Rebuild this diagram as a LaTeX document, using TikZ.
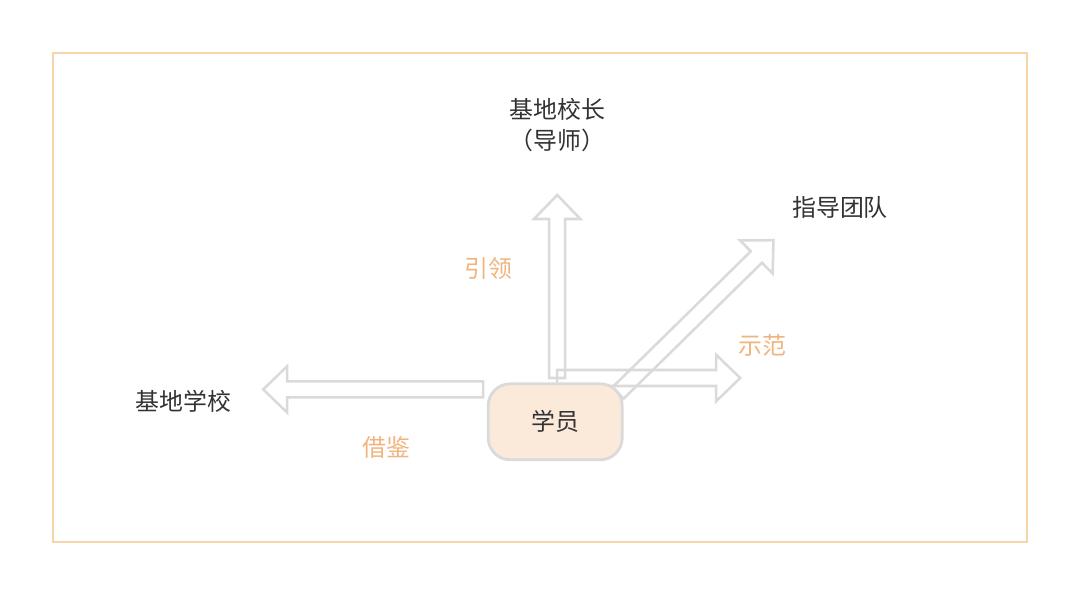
\documentclass[tikz,border=0pt]{standalone}
\usepackage{fontspec}
\setmainfont{Noto Sans CJK SC}
\usetikzlibrary{positioning}
\definecolor{frameor}{HTML}{F6D5AA}
\definecolor{labelor}{HTML}{F0B47E}
\definecolor{arrowgr}{HTML}{DADADA}
\definecolor{boxfill}{HTML}{FBE9DA}
\definecolor{txtgr}{HTML}{333333}
\tikzset{
  pics/blockarrow/.style={code={
    \draw[arrowgr,line width=1.8pt,line join=miter]
      (0,-0.2) -- (#1-0.6,-0.2) -- (#1-0.6,-0.58) -- (#1,0) -- (#1-0.6,0.58)
      -- (#1-0.6,0.2) -- (0,0.2) -- cycle;}},
  actor/.style={text=txtgr,font=\fontsize{17}{22}\selectfont,align=center},
  verb/.style={text=labelor,font=\fontsize{17}{22}\selectfont},
  student/.style={draw=arrowgr,fill=boxfill,line width=2pt,rounded corners=0.55cm,
    minimum width=3.35cm,minimum height=1.9cm,text=txtgr,font=\fontsize{17}{22}\selectfont}
}
\begin{document}
\begin{tikzpicture}[x=1cm,y=1cm]
\useasboundingbox (0,0) rectangle (27,14.875);
\draw[frameor,line width=0.8pt] (1.325,1.325) rectangle (25.675,13.55);
% arrows
\pic at (13.93,5.425) {blockarrow=4.575} [rotate=90];
\pic[rotate=90] at (13.93,5.425) {blockarrow=4.575};
\pic[rotate=180] at (12.08,5.14) {blockarrow=5.5};
\pic[rotate=44.5] at (15.45,5.05) {blockarrow=5.45};
% nodes
\node[student] (stu) at (13.88,4.33) {学员};
\node[actor] (head) at (13.93,11.75) {基地校长\\（导师）};
\node[actor] (team) at (21,9.7) {指导团队};
\node[actor] (school) at (4.58,4.85) {基地学校};
\node[verb] (lead) at (12.2,8.17) {引领};
\node[verb] (show) at (19.05,6.25) {示范};
\node[verb] (learn) at (9.65,3.7) {借鉴};
\end{tikzpicture}
\end{document}
